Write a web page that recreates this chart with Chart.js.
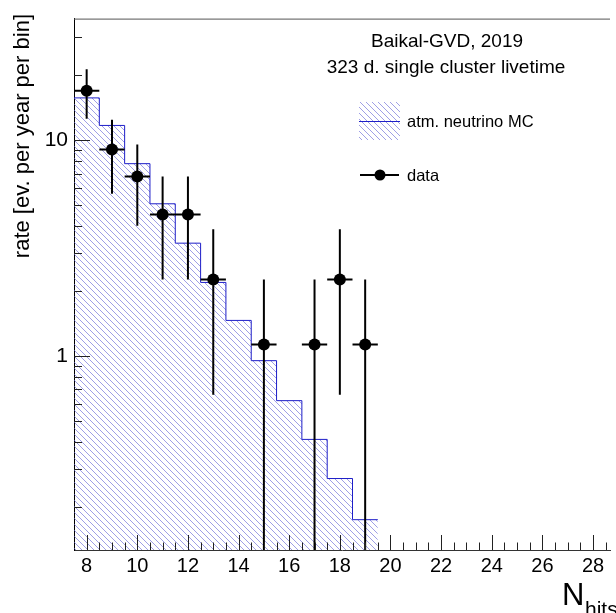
<!DOCTYPE html>
<html><head><meta charset="utf-8">
<script src="https://cdn.jsdelivr.net/npm/chart.js@4.4.1/dist/chart.umd.min.js"></script>
<style>html,body{margin:0;padding:0;background:#fff;overflow:hidden}#wrap{width:616px;height:613px;position:relative}</style>
</head><body><div id="wrap"><canvas id="c" width="616" height="613"></canvas></div>
<script>
// ---- data ----
const mcBinCenters = [8, 9, 10, 11, 12, 13, 14, 15, 16, 17, 18, 19];
const mcRates = [15.7, 11.7, 7.78, 5.07, 3.33, 2.19, 1.46, 0.95, 0.62, 0.41, 0.27, 0.174];
const dataBins = [8, 9, 10, 11, 12, 13, 15, 17, 18, 19];
const dataRates = [16.95, 9.04, 6.78, 4.52, 4.52, 2.26, 1.13, 1.13, 2.26, 1.13];
const dataErrors = [4.38, 3.39, 2.77, 2.26, 2.26, 1.60, 1.13, 1.13, 1.60, 1.13];
const xTickLabels = [8, 10, 12, 14, 16, 18, 20, 22, 24, 26, 28];
const yTickLabels = [1, 10];
const binWidth = 1;
const titleLines = ['Baikal-GVD, 2019', '323 d. single cluster livetime'];
const mcLabel = 'atm. neutrino MC';
const dataLabel = 'data';
const yTitle = 'rate [ev. per year per bin]';

const FONT = "'Liberation Sans', Arial, Helvetica, sans-serif";
Chart.defaults.font.family = FONT;

const canvas = document.getElementById('c');
const mainCtx = canvas.getContext('2d');
function makeHatch() {
  const s = 6;
  const c = document.createElement('canvas');
  c.width = s; c.height = s;
  const g = c.getContext('2d');
  g.strokeStyle = 'rgba(100,100,215,0.62)';
  g.lineWidth = 1;
  g.beginPath();
  for (let k = -1; k <= 1; k++) {
    g.moveTo(-1, k * s - 1);
    g.lineTo(s + 1, k * s + s + 1);
  }
  g.stroke();
  return mainCtx.createPattern(c, 'repeat');
}
const hatch = makeHatch();

// histogram as stepped line through bin left edges
const histPoints = mcBinCenters.map((c, i) => ({ x: c - binWidth / 2, y: mcRates[i] }));
histPoints.push({ x: mcBinCenters[mcBinCenters.length - 1] + binWidth / 2, y: mcRates[mcRates.length - 1] });
const dataPoints = dataBins.map((b, i) => ({ x: b, y: dataRates[i] }));

const decorPlugin = {
  id: 'decor',
  afterDatasetsDraw(chart) {
    const { ctx, chartArea: a, scales: { x, y } } = chart;
    // error bars
    ctx.save();
    ctx.beginPath();
    ctx.rect(a.left, a.top, a.right - a.left, a.bottom - a.top);
    ctx.clip();
    ctx.strokeStyle = '#000';
    ctx.lineWidth = 2;
    ctx.beginPath();
    dataBins.forEach((b, i) => {
      const px = x.getPixelForValue(b);
      const py = y.getPixelForValue(dataRates[i]);
      const hi = y.getPixelForValue(dataRates[i] + dataErrors[i]);
      const lowV = dataRates[i] - dataErrors[i];
      const lo = lowV > 0 ? y.getPixelForValue(lowV) : a.bottom;
      ctx.moveTo(px, hi); ctx.lineTo(px, lo);
      ctx.moveTo(x.getPixelForValue(b - binWidth / 2), py);
      ctx.lineTo(x.getPixelForValue(b + binWidth / 2), py);
    });
    ctx.stroke();
    ctx.restore();
  },
  afterDraw(chart) {
    const { ctx, chartArea: a, scales: { x, y } } = chart;
    ctx.save();
    // top frame line
    ctx.strokeStyle = '#555';
    ctx.lineWidth = 1;
    ctx.beginPath();
    ctx.moveTo(a.left, a.top + 0.5); ctx.lineTo(a.right, a.top + 0.5);
    ctx.stroke();
    // inward ticks x
    ctx.strokeStyle = '#222';
    ctx.beginPath();
    for (let v = 8; v <= x.max; v += 0.5) {
      const px = Math.round(x.getPixelForValue(v)) + 0.5;
      const len = (v % 2 === 0) ? 15 : 7.5;
      ctx.moveTo(px, a.bottom); ctx.lineTo(px, a.bottom - len);
    }
    // inward ticks y
    for (let d = -1; d <= 1; d++) {
      for (let m = 1; m <= 9; m++) {
        const v = m * Math.pow(10, d);
        if (v < y.min || v > y.max) continue;
        const py = Math.round(y.getPixelForValue(v)) + 0.5;
        const len = m === 1 ? 16 : 8;
        ctx.moveTo(a.left, py); ctx.lineTo(a.left + len, py);
      }
    }
    ctx.stroke();

    // text annotations
    ctx.fillStyle = '#000';
    ctx.textAlign = 'center';
    ctx.textBaseline = 'alphabetic';
    ctx.font = '19px ' + FONT;
    ctx.fillText(titleLines[0], 447, 47);
    ctx.fillText(titleLines[1], 446, 73);

    // legend: MC
    ctx.fillStyle = hatch;
    ctx.fillRect(359, 102, 41, 38);
    ctx.strokeStyle = 'rgb(30,30,200)';
    ctx.lineWidth = 1;
    ctx.beginPath(); ctx.moveTo(359, 121.5); ctx.lineTo(400, 121.5); ctx.stroke();
    ctx.fillStyle = '#000';
    ctx.textAlign = 'left';
    ctx.font = '16.5px ' + FONT;
    ctx.textBaseline = 'middle';
    ctx.fillText(mcLabel, 407, 122);
    // legend: data
    ctx.strokeStyle = '#000';
    ctx.lineWidth = 2;
    ctx.beginPath(); ctx.moveTo(360, 175); ctx.lineTo(399, 175); ctx.stroke();
    ctx.beginPath(); ctx.arc(380, 175, 5.5, 0, Math.PI * 2); ctx.fill();
    ctx.fillText(dataLabel, 407, 176);

    // x axis title N_hits
    ctx.textBaseline = 'alphabetic';
    ctx.font = '31px ' + FONT;
    ctx.fillText('N', 562, 605);
    ctx.font = '21px ' + FONT;
    ctx.fillText('hits', 585, 616);

    // y axis title
    ctx.save();
    ctx.translate(29, 14);
    ctx.rotate(-Math.PI / 2);
    ctx.textAlign = 'right';
    ctx.font = '22px ' + FONT;
    ctx.fillText(yTitle, 0, 0);
    ctx.restore();
    ctx.restore();
  }
};

new Chart(canvas, {
  type: 'line',
  data: {
    datasets: [
      {
        label: mcLabel,
        data: histPoints,
        stepped: 'before',
        borderColor: 'rgb(30,30,200)',
        borderWidth: 1,
        backgroundColor: hatch,
        fill: 'start',
        pointRadius: 0,
        order: 2
      },
      {
        label: dataLabel,
        data: dataPoints,
        showLine: false,
        pointRadius: 6,
        pointBackgroundColor: '#000',
        pointBorderColor: '#000',
        pointBorderWidth: 0,
        order: 1
      }
    ]
  },
  options: {
    responsive: false,
    animation: false,
    devicePixelRatio: 1,
    layout: { padding: { top: 8, right: 0, left: 0, bottom: 0 } },
    plugins: { legend: { display: false }, tooltip: { enabled: false } },
    scales: {
      x: {
        type: 'linear',
        min: 7.5,
        max: 28.67,
        afterFit(s) { s.height = 63; },
        afterBuildTicks(s) { s.ticks = xTickLabels.map(v => ({ value: v })); },
        grid: { display: false, drawTicks: false },
        border: { display: true, color: '#333', width: 1 },
        ticks: { color: '#000', font: { size: 20 }, padding: 4, maxRotation: 0, autoSkip: false, callback: v => String(v) }
      },
      y: {
        type: 'logarithmic',
        min: 0.1259,
        max: 36.6,
        afterFit(s) { s.width = 74; },
        afterBuildTicks(s) { s.ticks = yTickLabels.map(v => ({ value: v })); },
        grid: { display: false, drawTicks: false },
        border: { display: true, color: '#000', width: 1 },
        ticks: { color: '#000', font: { size: 21 }, padding: 6, autoSkip: false, callback: v => String(v) }
      }
    }
  },
  plugins: [decorPlugin]
});
</script></body></html>
